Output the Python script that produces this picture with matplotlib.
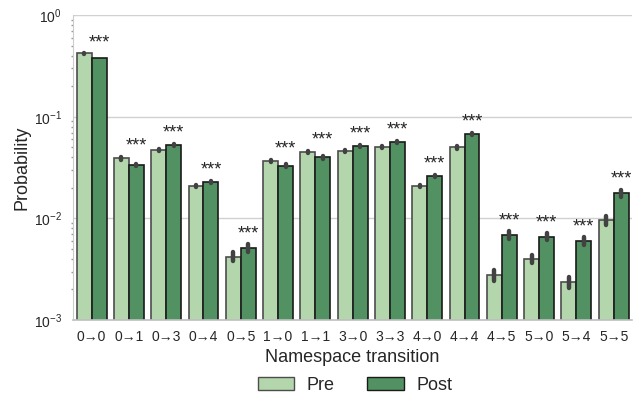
import numpy as np
import matplotlib
matplotlib.use("Agg")
import matplotlib.pyplot as plt
from matplotlib.patches import Patch

plt.rcParams['font.family'] = ['Liberation Sans', 'DejaVu Sans']
plt.rcParams['text.color'] = '0.15'
plt.rcParams['axes.labelcolor'] = '0.15'
plt.rcParams['xtick.color'] = '0.15'
plt.rcParams['ytick.color'] = '0.15'

transitions = ['0→0', '0→1', '0→3', '0→4', '0→5', '1→0', '1→1', '3→0',
               '3→3', '4→0', '4→4', '4→5', '5→0', '5→4', '5→5']
pre = [0.42, 0.039, 0.047, 0.0208, 0.0042, 0.0367, 0.045, 0.046,
       0.0503, 0.0208, 0.050, 0.00278, 0.0040, 0.00237, 0.0096]
post = [0.377, 0.0335, 0.053, 0.0228, 0.0051, 0.0330, 0.040, 0.0515,
        0.0564, 0.0261, 0.0676, 0.00687, 0.0066, 0.0060, 0.0178]
# relative half-width of the confidence intervals
pre_err = [0.005, 0.03, 0.03, 0.03, 0.10, 0.03, 0.03, 0.03,
           0.03, 0.03, 0.03, 0.12, 0.08, 0.12, 0.10]
post_err = [0.005, 0.03, 0.03, 0.03, 0.09, 0.03, 0.03, 0.03,
            0.03, 0.03, 0.03, 0.09, 0.08, 0.09, 0.08]
stars = ['***'] * len(transitions)

c_pre = '#b3d6ad'
c_post = '#529262'

x = np.arange(len(transitions))
w = 0.4

fig, ax = plt.subplots(figsize=(6.4, 4.0), dpi=100)
fig.subplots_adjust(left=0.114, right=0.988, top=0.962, bottom=0.2)

ax.bar(x - w / 2, pre, w, color=c_pre, edgecolor='0.3', linewidth=1.2, zorder=2)
ax.bar(x + w / 2, post, w, color=c_post, edgecolor='0.1', linewidth=1.2, zorder=2)

pre = np.array(pre)
post = np.array(post)
pe = np.array(pre_err)
qe = np.array(post_err)
ax.vlines(x - w / 2, pre * (1 - pe), pre * (1 + pe), color='0.26', lw=3.2,
          capstyle='round', zorder=3)
ax.vlines(x + w / 2, post * (1 - qe), post * (1 + qe), color='0.26', lw=3.2,
          capstyle='round', zorder=3)

top = np.maximum(pre * (1 + pe), post * (1 + qe))
for i in range(len(transitions)):
    ax.annotate(stars[i], (x[i] + w / 2, top[i]), xytext=(0, 1.5),
                textcoords='offset points', ha='center', va='bottom',
                fontsize=13, color='0.15')

ax.set_yscale('log')
ax.set_ylim(1e-3, 1)
ax.set_xlim(-0.5, len(transitions) - 0.5)
ax.set_xticks(x)
ax.set_xticklabels(transitions, fontsize=10)
ax.tick_params(axis='y', which='major', labelsize=10, length=0, pad=8)
ax.tick_params(axis='y', which='minor', length=1.5, width=1, color='0.6')
ax.tick_params(axis='x', length=0, pad=7)

ax.grid(axis='y', which='major', color='0.82', lw=1, zorder=0)
ax.grid(axis='x', visible=False)
ax.set_axisbelow(True)
for s in ['top', 'right']:
    ax.spines[s].set_visible(False)
ax.spines['left'].set_color('0.8')
ax.spines['bottom'].set_color('0.75')
ax.spines['bottom'].set_linewidth(1.2)

ax.set_xlabel('Namespace transition', fontsize=13, labelpad=4)
ax.set_ylabel('Probability', fontsize=13, labelpad=2)

handles = [Patch(facecolor=c_pre, edgecolor='0.3', label='Pre'),
           Patch(facecolor=c_post, edgecolor='0.1', label='Post')]
fig.legend(handles=handles, loc='lower center', ncol=2, frameon=False,
           fontsize=13, handlelength=2.0, handleheight=0.7, handletextpad=0.7,
           columnspacing=1.8, bbox_to_anchor=(0.555, -0.025))

fig.savefig('out.png', dpi=100)
